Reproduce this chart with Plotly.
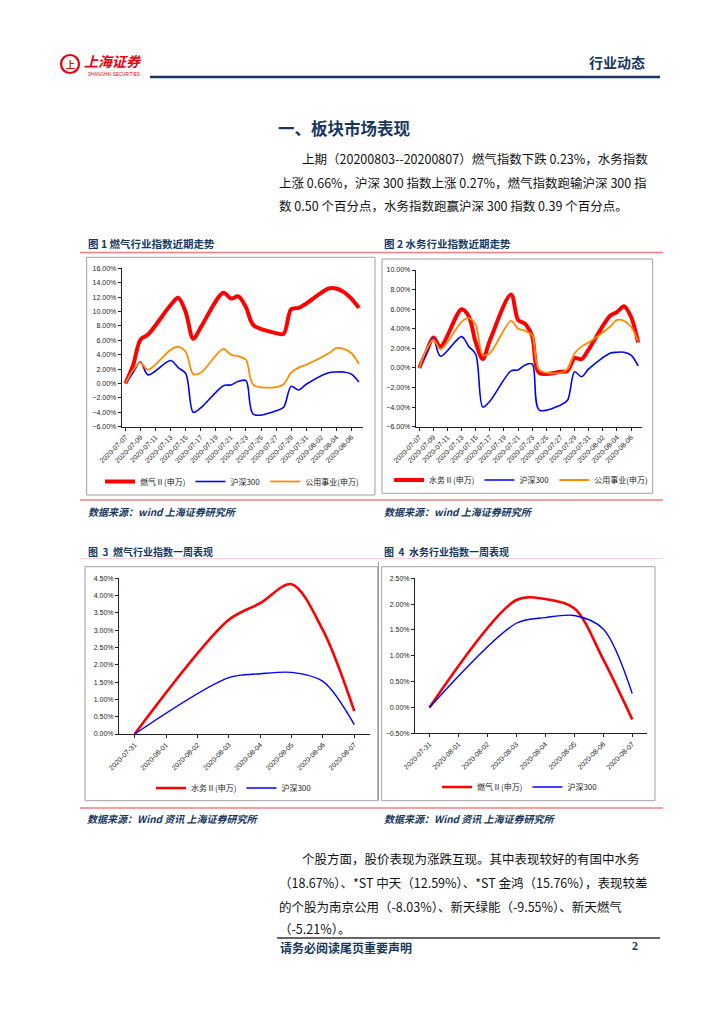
import plotly.graph_objects as go

W, H = 724, 1024

# ---------------- data ----------------
daily_dates = ['2020-07-07', '2020-07-08', '2020-07-09', '2020-07-10', '2020-07-13', '2020-07-14',
               '2020-07-15', '2020-07-16', '2020-07-17', '2020-07-20', '2020-07-21', '2020-07-22',
               '2020-07-23', '2020-07-24', '2020-07-27', '2020-07-28', '2020-07-29', '2020-07-30',
               '2020-07-31', '2020-08-03', '2020-08-04', '2020-08-05', '2020-08-06', '2020-08-07']
gas_daily = [0, 2.5, 6.1, 6.8, 10.9, 11.9, 9.9, 6.2, 7.8, 12.6, 11.8, 12.1,
             10.6, 8.1, 7.0, 6.9, 10.3, 10.5, 11.1, 13.2, 13.2, 12.7, 11.8, 10.5]
water_daily = [0, 1.6, 3.1, 2.2, 6.0, 5.3, 2.6, 0.9, 2.8, 7.5, 4.9, 4.5,
               3.2, -0.5, -0.4, -0.3, 1.0, 0.9, 1.9, 5.3, 5.7, 6.3, 5.2, 2.6]
hs300_daily = [0, 1.5, 3.0, 1.2, 3.2, 2.2, 1.4, -4.0, -3.4, -0.3, -0.2, 0.3,
               0.4, -4.3, -3.8, -3.3, -0.4, -0.9, -0.1, 1.5, 1.6, 1.6, 1.3, 0.2]
utility_daily = [0, 1.8, 2.9, 1.9, 4.7, 5.1, 4.4, 1.3, 1.5, 4.8, 4.0, 3.8,
                 3.3, -0.2, -0.5, -0.1, 1.5, 2.2, 2.6, 4.2, 4.9, 4.8, 4.2, 2.7]
daily_ticks = ['2020-07-07', '2020-07-09', '2020-07-11', '2020-07-13', '2020-07-15', '2020-07-17',
               '2020-07-19', '2020-07-21', '2020-07-23', '2020-07-25', '2020-07-27', '2020-07-29',
               '2020-07-31', '2020-08-02', '2020-08-04', '2020-08-06']

week_dates = ['2020-07-31', '2020-08-03', '2020-08-04', '2020-08-05', '2020-08-06', '2020-08-07']
water_week = [0, 3.3, 3.78, 4.33, 3.0, 0.66]
hs300_week = [0, 1.63, 1.74, 1.78, 1.52, 0.27]
gas_week = [0, 2.08, 2.1, 1.92, 0.93, -0.23]
week_ticks = ['2020-07-31', '2020-08-01', '2020-08-02', '2020-08-03', '2020-08-04',
              '2020-08-05', '2020-08-06', '2020-08-07']

name_gas = '燃气Ⅱ(申万)'
name_water = '水务Ⅱ(申万)'
name_hs = '沪深300'
name_util = '公用事业(申万)'

# ---------------- helpers ----------------
def px(x):
    return x / W

def py(y):
    return 1 - y / H

RED = '#FF0000'
BLUE = '#0000FF'
ORANGE = '#FF8C00'
NAVY = '#17375E'
CJK = 'Noto Sans CJK SC'

fig = go.Figure()

def line(x, y, name, color, width, xa, ya, lg):
    fig.add_trace(go.Scatter(x=x, y=y, name=name, mode='lines',
                             line=dict(color=color, width=width, shape='spline', smoothing=0.9),
                             xaxis=xa, yaxis=ya, legend=lg, hoverinfo='skip'))

# chart 1
line(daily_dates, gas_daily, name_gas, RED, 4, 'x', 'y', 'legend')
line(daily_dates, hs300_daily, name_hs, BLUE, 1.6, 'x', 'y', 'legend')
line(daily_dates, utility_daily, name_util, ORANGE, 1.8, 'x', 'y', 'legend')
# chart 2
line(daily_dates, water_daily, name_water, RED, 4, 'x2', 'y2', 'legend2')
line(daily_dates, hs300_daily, name_hs, BLUE, 1.6, 'x2', 'y2', 'legend2')
line(daily_dates, utility_daily, name_util, ORANGE, 1.8, 'x2', 'y2', 'legend2')
# chart 3
line(week_dates, water_week, name_water, RED, 2.6, 'x3', 'y3', 'legend3')
line(week_dates, hs300_week, name_hs, BLUE, 1.4, 'x3', 'y3', 'legend3')
# chart 4
line(week_dates, gas_week, name_gas, RED, 2.6, 'x4', 'y4', 'legend4')
line(week_dates, hs300_week, name_hs, BLUE, 1.4, 'x4', 'y4', 'legend4')

tickfont = dict(family='Liberation Sans', size=7, color='#222')
axis_common = dict(showline=True, linecolor='#222', linewidth=1, ticks='outside',
                   ticklen=3, tickcolor='#222', showgrid=False, zeroline=False,
                   tickfont=tickfont, fixedrange=True, automargin=False)

def xaxis(x0, x1, rng, ticks, anchor):
    return dict(domain=[px(x0), px(x1)], type='date', range=rng, tickmode='array',
                tickvals=ticks, ticktext=ticks, tickangle=-45, anchor=anchor, **axis_common)

def yaxis(y_top, y_bot, rng, dtick, anchor):
    return dict(domain=[py(y_bot), py(y_top)], range=rng, dtick=dtick, tick0=0,
                tickformat='.2f', ticksuffix='%', anchor=anchor, **axis_common)

drange = ['2020-07-06 12:00', '2020-08-07 12:00']
wrange = ['2020-07-30 12:00', '2020-08-07 12:00']

fig.update_layout(
    xaxis=xaxis(121.7, 362.7, drange, daily_ticks, 'y'),
    yaxis=yaxis(268.3, 426.7, [-6, 16], 2, 'x'),
    xaxis2=xaxis(415.7, 641.7, drange, daily_ticks, 'y2'),
    yaxis2=yaxis(270, 426.7, [-6, 10], 2, 'x2'),
    xaxis3=xaxis(119, 370, wrange, week_ticks, 'y3'),
    yaxis3=yaxis(578.3, 734, [0, 4.5], 0.5, 'x3'),
    xaxis4=xaxis(415, 646.7, wrange, week_ticks, 'y4'),
    yaxis4=yaxis(578.3, 733.3, [-0.5, 2.5], 0.5, 'x4'),
)

legend_common = dict(orientation='h', xanchor='center', yanchor='middle',
                     font=dict(family=CJK, size=8, color='#222'), bgcolor='rgba(0,0,0,0)',
                     itemwidth=30, tracegroupgap=0, itemclick=False, itemdoubleclick=False)
fig.update_layout(
    legend=dict(x=px(232), y=py(481.5), **legend_common),
    legend2=dict(x=px(521), y=py(480), **legend_common),
    legend3=dict(x=px(234), y=py(788), **legend_common),
    legend4=dict(x=px(520), y=py(787), **legend_common),
)

shapes = []
def rect(x0, y0, x1, y1, color='#A0A0A0', width=1):
    shapes.append(dict(type='rect', xref='paper', yref='paper', x0=px(x0), x1=px(x1),
                       y0=py(y1), y1=py(y0), line=dict(color=color, width=width)))

def hline(x0, x1, y, color, width):
    shapes.append(dict(type='line', xref='paper', yref='paper', x0=px(x0), x1=px(x1),
                       y0=py(y), y1=py(y), line=dict(color=color, width=width)))

# chart frames
rect(86.7, 257.3, 375, 495)
rect(382, 259, 652.7, 493.3)
rect(85, 566.7, 377.7, 800.7)
rect(381.7, 566.7, 655, 800.7)
shapes.append(dict(type='line', xref='paper', yref='paper', x0=px(378.5), x1=px(378.5),
                   y0=py(800.7), y1=py(562), line=dict(color='#A0A0A0', width=1)))

# header / separators
hline(150, 660, 77, NAVY, 2.5)
hline(80, 663, 252.5, '#F08080', 1.5)
hline(80, 663, 500, '#F08080', 1.5)
hline(80, 663, 558.5, '#F9D4D4', 1)
hline(80, 663, 808, '#F08080', 1.5)
hline(277, 660, 938, '#333333', 1.3)

# logo emblem
shapes.append(dict(type='circle', xref='paper', yref='paper', x0=px(61), x1=px(79),
                   y0=py(73), y1=py(55), line=dict(color='#E60012', width=2.2)))

fig.update_layout(shapes=shapes)

ann = []
def text(x, y, s, size, color='#111', anchor='left', family=CJK):
    ann.append(dict(x=px(x), y=py(y), xref='paper', yref='paper', text=s, showarrow=False,
                    xanchor=anchor, yanchor='middle', font=dict(family=family, size=size, color=color)))

# header
text(70, 64, '<b>上</b>', 9, '#E60012', 'center')
text(82, 61, '<b><i>上海证券</i></b>', 14, '#E60012')
text(86, 74.5, 'SHANGHAI SECURITIES', 4.5, '#E60012', 'left', 'Liberation Sans')
text(647, 62, '<b>行业动态</b>', 14, NAVY, 'right')

# section heading and paragraph
text(276, 128, '<b>一、板块市场表现</b>', 16.5, NAVY)
body = '#111'
text(300, 158, '上期（20200803--20200807）燃气指数下跌 0.23%，水务指数', 12.5, body)
text(277, 182, '上涨 0.66%，沪深 300 指数上涨 0.27%，燃气指数跑输沪深 300 指', 12.5, body)
text(277, 205, '数 0.50 个百分点，水务指数跑赢沪深 300 指数 0.39 个百分点。', 12.5, body)

# captions
text(86, 243, '<b>图 1 燃气行业指数近期走势</b>', 10.5, NAVY)
text(382, 243, '<b>图 2 水务行业指数近期走势</b>', 10.5, NAVY)
text(86, 511, '<b><i>数据来源：wind 上海证券研究所</i></b>', 10, NAVY)
text(382, 511, '<b><i>数据来源：wind 上海证券研究所</i></b>', 10, NAVY)
text(86, 551, '<b>图  3  燃气行业指数一周表现</b>', 10, NAVY)
text(382, 551, '<b>图  4  水务行业指数一周表现</b>', 10, NAVY)
text(85, 818, '<b><i>数据来源：Wind 资讯 上海证券研究所</i></b>', 10, NAVY)
text(382, 818, '<b><i>数据来源：Wind 资讯 上海证券研究所</i></b>', 10, NAVY)

# second paragraph
text(300, 858, '个股方面，股价表现为涨跌互现。其中表现较好的有国中水务', 12.5, body)
text(277, 882, '（18.67%）、*ST 中天（12.59%）、*ST 金鸿（15.76%），表现较差', 12.5, body)
text(277, 906, '的个股为南京公用（-8.03%）、新天绿能（-9.55%）、新天燃气', 12.5, body)
text(277, 928, '（-5.21%）。', 12.5, body)

# footer
text(278, 947, '<b>请务必阅读尾页重要声明</b>', 12, NAVY)
text(635, 946, '<b>2</b>', 12, NAVY, 'center', 'Liberation Serif')

fig.update_layout(annotations=ann, width=W, height=H, autosize=False,
                  margin=dict(l=0, r=0, t=0, b=0, autoexpand=False),
                  paper_bgcolor='white', plot_bgcolor='white', showlegend=True)

fig.write_html('out.html', config={'displayModeBar': False},
               post_script="document.body.style.margin='0';document.body.style.overflow='hidden';")
